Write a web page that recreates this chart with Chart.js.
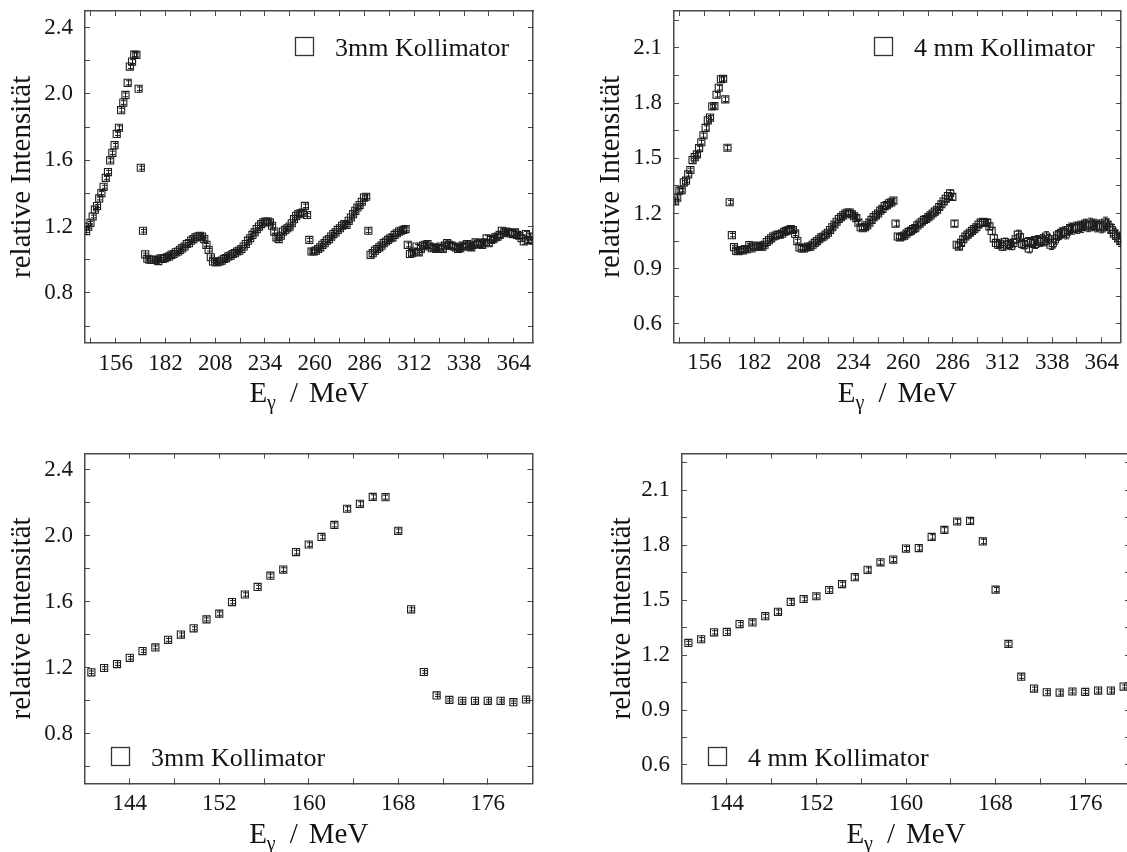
<!DOCTYPE html>
<html lang="de">
<head>
<meta charset="utf-8">
<title>Relative Intensität – 3 mm und 4 mm Kollimator</title>
<script src="https://cdn.jsdelivr.net/npm/chart.js@4.4.1/dist/chart.umd.min.js"></script>
<style>
  html, body { margin: 0; padding: 0; background: #fff; }
  #page { position: relative; width: 1127px; height: 852px; overflow: hidden; }
  #page canvas { position: absolute; }
</style>
</head>
<body>
<div id="page">
  <canvas id="wide3" width="560" height="430" style="left:0;top:0"></canvas>
  <canvas id="wide4" width="560" height="430" style="left:567px;top:0"></canvas>
  <canvas id="zoom3" width="560" height="422" style="left:0;top:430px"></canvas>
  <canvas id="zoom4" width="580" height="422" style="left:567px;top:430px"></canvas>
</div>
<script>
// Photon energy of each tagger channel (MeV)
const energy = [
  140.57, 141.71, 142.86, 144.00, 145.14, 146.29, 147.43, 148.57, 149.71, 150.86,
  152.00, 153.14, 154.29, 155.43, 156.57, 157.72, 158.86, 160.00, 161.14, 162.29,
  163.43, 164.57, 165.72, 166.86, 168.00, 169.15, 170.29, 171.43, 172.57, 173.72,
  174.86, 176.00, 177.15, 178.29, 179.43, 180.58, 181.72, 182.86, 184.00, 185.15,
  186.29, 187.43, 188.58, 189.72, 190.86, 192.01, 193.15, 194.29, 195.43, 196.58,
  197.72, 198.86, 200.01, 201.15, 202.29, 203.44, 204.58, 205.72, 206.86, 208.01,
  209.15, 210.29, 211.44, 212.58, 213.72, 214.87, 216.01, 217.15, 218.29, 219.44,
  220.58, 221.72, 222.87, 224.01, 225.15, 226.30, 227.44, 228.58, 229.72, 230.87,
  232.01, 233.15, 234.30, 235.44, 236.58, 237.73, 238.87, 240.01, 241.15, 242.30,
  243.44, 244.58, 245.73, 246.87, 248.01, 249.16, 250.30, 251.44, 252.58, 253.73,
  254.87, 256.01, 257.16, 258.30, 259.44, 260.59, 261.73, 262.87, 264.01, 265.16,
  266.30, 267.44, 268.59, 269.73, 270.87, 272.02, 273.16, 274.30, 275.44, 276.59,
  277.73, 278.87, 280.02, 281.16, 282.30, 283.45, 284.59, 285.73, 286.87, 288.02,
  289.16, 290.30, 291.45, 292.59, 293.73, 294.88, 296.02, 297.16, 298.30, 299.45,
  300.59, 301.73, 302.88, 304.02, 305.16, 306.31, 307.45, 308.59, 309.73, 310.88,
  312.02, 313.16, 314.31, 315.45, 316.59, 317.74, 318.88, 320.02, 321.16, 322.31,
  323.45, 324.59, 325.74, 326.88, 328.02, 329.17, 330.31, 331.45, 332.59, 333.74,
  334.88, 336.02, 337.17, 338.31, 339.45, 340.60, 341.74, 342.88, 344.02, 345.17,
  346.31, 347.45, 348.60, 349.74, 350.88, 352.03, 353.17, 354.31, 355.45, 356.60,
  357.74, 358.88, 360.03, 361.17, 362.31, 363.46, 364.60, 365.74, 366.88, 368.03,
  369.17, 370.31, 371.46, 372.60, 373.74
];

// 3 mm collimator: relative intensity and its uncertainty
const intensity3mm = [
  1.173, 1.199, 1.223, 1.261, 1.302, 1.324, 1.370, 1.402, 1.440, 1.494,
  1.529, 1.599, 1.645, 1.691, 1.759, 1.796, 1.902, 1.948, 1.994, 2.067,
  2.165, 2.195, 2.237, 2.235, 2.031, 1.555, 1.175, 1.033, 1.006, 1.000,
  1.000, 1.000, 1.000, 0.992, 1.008, 1.005, 1.010, 1.015, 1.020, 1.030,
  1.035, 1.045, 1.050, 1.060, 1.070, 1.080, 1.095, 1.100, 1.115, 1.125,
  1.135, 1.140, 1.145, 1.140, 1.125, 1.090, 1.060, 1.015, 0.990, 0.985,
  0.985, 0.990, 0.995, 1.005, 1.010, 1.020, 1.025, 1.035, 1.040, 1.050,
  1.055, 1.065, 1.080, 1.095, 1.115, 1.130, 1.150, 1.165, 1.185, 1.200,
  1.215, 1.225, 1.230, 1.230, 1.225, 1.205, 1.170, 1.135, 1.125, 1.145,
  1.170, 1.180, 1.190, 1.200, 1.220, 1.245, 1.265, 1.275, 1.280, 1.285,
  1.325, 1.270, 1.120, 1.050, 1.050, 1.055, 1.065, 1.075, 1.090, 1.100,
  1.115, 1.125, 1.140, 1.155, 1.165, 1.180, 1.190, 1.205, 1.215, 1.210,
  1.235, 1.255, 1.275, 1.295, 1.315, 1.330, 1.350, 1.375, 1.380, 1.175,
  1.030, 1.040, 1.055, 1.065, 1.075, 1.085, 1.100, 1.110, 1.120, 1.130,
  1.135, 1.150, 1.160, 1.170, 1.175, 1.180, 1.185, 1.090, 1.035, 1.040,
  1.050, 1.080, 1.045, 1.065, 1.085, 1.090, 1.095, 1.080, 1.070, 1.075,
  1.065, 1.070, 1.080, 1.065, 1.085, 1.100, 1.090, 1.085, 1.080, 1.075,
  1.065, 1.070, 1.085, 1.080, 1.095, 1.080, 1.075, 1.090, 1.105, 1.095,
  1.100, 1.090, 1.105, 1.130, 1.100, 1.120, 1.125, 1.135, 1.140, 1.150,
  1.175, 1.160, 1.170, 1.165, 1.160, 1.155, 1.165, 1.150, 1.145, 1.130,
  1.110, 1.155, 1.120, 1.140, 1.115
];
const error3mm = [
  0.008, 0.008, 0.008, 0.008, 0.008, 0.009, 0.009, 0.009, 0.009, 0.009,
  0.010, 0.010, 0.010, 0.010, 0.010, 0.011, 0.011, 0.011, 0.011, 0.012,
  0.012, 0.012, 0.012, 0.012, 0.011, 0.009, 0.008, 0.007, 0.007, 0.007,
  0.007, 0.007, 0.007, 0.007, 0.007, 0.007, 0.007, 0.007, 0.007, 0.007,
  0.007, 0.007, 0.007, 0.008, 0.008, 0.008, 0.008, 0.008, 0.008, 0.008,
  0.008, 0.008, 0.008, 0.008, 0.008, 0.008, 0.008, 0.008, 0.007, 0.007,
  0.007, 0.007, 0.007, 0.007, 0.007, 0.008, 0.008, 0.008, 0.008, 0.008,
  0.008, 0.008, 0.008, 0.008, 0.008, 0.008, 0.009, 0.009, 0.009, 0.009,
  0.009, 0.009, 0.009, 0.009, 0.009, 0.009, 0.009, 0.009, 0.009, 0.009,
  0.009, 0.009, 0.009, 0.009, 0.009, 0.010, 0.010, 0.010, 0.010, 0.010,
  0.010, 0.010, 0.009, 0.009, 0.009, 0.009, 0.009, 0.009, 0.009, 0.009,
  0.009, 0.009, 0.010, 0.010, 0.010, 0.010, 0.010, 0.010, 0.010, 0.010,
  0.010, 0.010, 0.011, 0.011, 0.011, 0.011, 0.011, 0.011, 0.011, 0.010,
  0.010, 0.010, 0.010, 0.010, 0.010, 0.010, 0.010, 0.010, 0.011, 0.011,
  0.011, 0.011, 0.011, 0.011, 0.011, 0.011, 0.011, 0.012, 0.012, 0.012,
  0.012, 0.012, 0.012, 0.012, 0.012, 0.012, 0.012, 0.012, 0.012, 0.013,
  0.013, 0.013, 0.013, 0.013, 0.013, 0.013, 0.013, 0.013, 0.013, 0.013,
  0.013, 0.013, 0.014, 0.014, 0.014, 0.014, 0.014, 0.014, 0.014, 0.014,
  0.014, 0.014, 0.014, 0.015, 0.015, 0.015, 0.015, 0.015, 0.015, 0.015,
  0.015, 0.015, 0.016, 0.016, 0.016, 0.016, 0.016, 0.016, 0.016, 0.016,
  0.016, 0.016, 0.016, 0.016, 0.016
];

// 4 mm collimator: relative intensity and its uncertainty
const intensity4mm = [
  1.266, 1.286, 1.324, 1.326, 1.369, 1.378, 1.412, 1.436, 1.490, 1.506,
  1.521, 1.555, 1.587, 1.625, 1.665, 1.706, 1.721, 1.781, 1.784, 1.845,
  1.883, 1.929, 1.932, 1.820, 1.557, 1.261, 1.082, 1.017, 0.997, 0.995,
  1.001, 0.999, 1.006, 1.006, 1.028, 1.010, 1.020, 1.020, 1.025, 1.020,
  1.020, 1.030, 1.045, 1.055, 1.065, 1.075, 1.080, 1.085, 1.085, 1.090,
  1.100, 1.105, 1.110, 1.115, 1.110, 1.090, 1.050, 1.015, 1.010, 1.010,
  1.015, 1.020, 1.020, 1.030, 1.040, 1.050, 1.060, 1.070, 1.075, 1.085,
  1.095, 1.110, 1.125, 1.140, 1.155, 1.170, 1.180, 1.190, 1.200, 1.205,
  1.205, 1.195, 1.185, 1.175, 1.150, 1.125, 1.120, 1.125, 1.135, 1.150,
  1.165, 1.180, 1.190, 1.200, 1.215, 1.225, 1.240, 1.245, 1.255, 1.260,
  1.270, 1.145, 1.075, 1.070, 1.075, 1.080, 1.090, 1.100, 1.105, 1.115,
  1.120, 1.135, 1.145, 1.155, 1.165, 1.170, 1.180, 1.190, 1.200, 1.210,
  1.220, 1.235, 1.250, 1.265, 1.280, 1.295, 1.310, 1.290, 1.145, 1.030,
  1.020, 1.040, 1.060, 1.075, 1.085, 1.095, 1.105, 1.115, 1.125, 1.140,
  1.150, 1.155, 1.150, 1.150, 1.130, 1.105, 1.065, 1.040, 1.030, 1.035,
  1.020, 1.045, 1.030, 1.035, 1.025, 1.040, 1.060, 1.085, 1.070, 1.035,
  1.030, 1.045, 1.010, 1.040, 1.050, 1.035, 1.055, 1.045, 1.060, 1.050,
  1.075, 1.060, 1.030, 1.040, 1.060, 1.080, 1.085, 1.095, 1.100, 1.090,
  1.110, 1.120, 1.115, 1.125, 1.120, 1.130, 1.125, 1.135, 1.140, 1.130,
  1.145, 1.135, 1.140, 1.130, 1.135, 1.125, 1.130, 1.150, 1.140, 1.125,
  1.110, 1.090, 1.080, 1.065, 1.050
];
const error4mm = [
  0.009, 0.009, 0.009, 0.009, 0.009, 0.009, 0.009, 0.010, 0.010, 0.010,
  0.010, 0.010, 0.010, 0.011, 0.011, 0.011, 0.011, 0.011, 0.011, 0.012,
  0.012, 0.012, 0.012, 0.012, 0.011, 0.010, 0.009, 0.008, 0.008, 0.008,
  0.008, 0.008, 0.008, 0.008, 0.008, 0.009, 0.009, 0.009, 0.009, 0.009,
  0.009, 0.009, 0.010, 0.010, 0.010, 0.010, 0.010, 0.010, 0.010, 0.010,
  0.010, 0.010, 0.010, 0.010, 0.010, 0.010, 0.010, 0.010, 0.010, 0.010,
  0.010, 0.010, 0.010, 0.010, 0.010, 0.011, 0.011, 0.011, 0.011, 0.011,
  0.011, 0.011, 0.011, 0.011, 0.011, 0.011, 0.012, 0.012, 0.012, 0.012,
  0.012, 0.012, 0.012, 0.012, 0.012, 0.012, 0.012, 0.012, 0.012, 0.012,
  0.012, 0.012, 0.013, 0.013, 0.013, 0.013, 0.013, 0.013, 0.013, 0.013,
  0.013, 0.013, 0.012, 0.012, 0.012, 0.012, 0.012, 0.012, 0.013, 0.013,
  0.013, 0.013, 0.013, 0.013, 0.013, 0.013, 0.014, 0.014, 0.014, 0.014,
  0.014, 0.014, 0.014, 0.015, 0.015, 0.015, 0.016, 0.016, 0.015, 0.014,
  0.014, 0.014, 0.015, 0.015, 0.015, 0.015, 0.016, 0.016, 0.016, 0.016,
  0.017, 0.017, 0.017, 0.018, 0.018, 0.018, 0.019, 0.019, 0.020, 0.020,
  0.020, 0.021, 0.021, 0.021, 0.022, 0.022, 0.022, 0.024, 0.023, 0.023,
  0.023, 0.024, 0.024, 0.024, 0.025, 0.025, 0.025, 0.025, 0.026, 0.026,
  0.026, 0.026, 0.026, 0.027, 0.027, 0.027, 0.027, 0.027, 0.027, 0.028,
  0.028, 0.028, 0.028, 0.028, 0.028, 0.028, 0.029, 0.029, 0.029, 0.029,
  0.029, 0.029, 0.029, 0.030, 0.030, 0.030, 0.030, 0.030, 0.030, 0.030,
  0.030, 0.030, 0.030, 0.030, 0.030
];

// Tick positions (every tick) and the ones that carry a label
const wideTicks = [143, 156, 169, 182, 195, 208, 221, 234, 247, 260, 273, 286, 299, 312, 325, 338, 351, 364];
const wideLabels = [156, 182, 208, 234, 260, 286, 312, 338, 364];
const zoomTicks = [144, 148, 152, 156, 160, 164, 168, 172, 176];
const zoomLabels = [144, 152, 160, 168, 176];
const ticks3mm = [0.6, 0.8, 1.0, 1.2, 1.4, 1.6, 1.8, 2.0, 2.2, 2.4];
const labels3mm = [0.8, 1.2, 1.6, 2.0, 2.4];
const ticks4mm = [0.6, 0.75, 0.9, 1.05, 1.2, 1.35, 1.5, 1.65, 1.8, 1.95, 2.1, 2.25];
const labels4mm = [0.6, 0.9, 1.2, 1.5, 1.8, 2.1];

const INK = '#141414';
const FRAME = '#4a4a4a';
const MARK = '#1e1e1e';
const SERIF = '"Liberation Serif", "Times New Roman", serif';

Chart.defaults.font.family = SERIF;
Chart.defaults.color = INK;

// Vertical error bars with small caps, drawn on top of the square markers
const errorBars = {
  id: 'errorBars',
  afterDatasetsDraw(chart) {
    const {ctx, chartArea: a, scales: {y}} = chart;
    ctx.save();
    ctx.beginPath();
    ctx.rect(a.left, a.top, a.right - a.left, a.bottom - a.top);
    ctx.clip();
    ctx.strokeStyle = MARK;
    ctx.lineWidth = 1;
    chart.data.datasets.forEach((ds, di) => {
      if (!ds.errors) return;
      chart.getDatasetMeta(di).data.forEach((pt, i) => {
        const v = ds.data[i].y;
        const hi = y.getPixelForValue(v + ds.errors[i]);
        const lo = y.getPixelForValue(v - ds.errors[i]);
        const x = Math.round(pt.x) + 0.5;
        ctx.beginPath();
        ctx.moveTo(x, Math.min(hi, pt.y - 3.5));
        ctx.lineTo(x, Math.max(lo, pt.y + 3.5));
        ctx.moveTo(x - 2.5, hi);
        ctx.lineTo(x + 2.5, hi);
        ctx.moveTo(x - 2.5, lo);
        ctx.lineTo(x + 2.5, lo);
        ctx.stroke();
      });
    });
    ctx.restore();
  }
};

// Legend box inside the frame: open square + collimator name
const boxLegend = {
  id: 'boxLegend',
  afterDraw(chart, args, opts) {
    const {ctx, chartArea: a} = chart;
    const x = Math.round(a.left + opts.dx);
    const y = Math.round(a.top + opts.dy);
    ctx.save();
    ctx.strokeStyle = '#333';
    ctx.lineWidth = 1.3;
    ctx.strokeRect(x + 0.5, y + 0.5, 18, 18);
    ctx.fillStyle = INK;
    ctx.font = '26px ' + SERIF;
    ctx.textBaseline = 'alphabetic';
    ctx.fillText(opts.text, x + 40, y + 19);
    ctx.restore();
  }
};

// x axis title "E_γ / MeV" with a subscripted gamma
const energyTitle = {
  id: 'energyTitle',
  afterDraw(chart, args, opts) {
    const {ctx, chartArea: a} = chart;
    const big = '29px ' + SERIF;
    const small = '20px ' + SERIF;
    ctx.save();
    ctx.fillStyle = INK;
    ctx.textBaseline = 'alphabetic';
    ctx.font = big;
    const wE = ctx.measureText('E').width;
    const wSlash = ctx.measureText('/').width;
    const wUnit = ctx.measureText('MeV').width;
    ctx.font = small;
    const wG = ctx.measureText('γ').width;
    const gap1 = 14, gap2 = 11;
    const total = wE + wG + gap1 + wSlash + gap2 + wUnit;
    let x = (a.left + a.right) / 2 - total / 2;
    const base = a.bottom + opts.offset;
    ctx.font = big;
    ctx.fillText('E', x, base);
    x += wE;
    ctx.font = small;
    ctx.fillText('γ', x, base + 7);
    x += wG + gap1;
    ctx.font = big;
    ctx.fillText('/', x, base);
    x += wSlash + gap2;
    ctx.fillText('MeV', x, base);
    ctx.restore();
  }
};

function axis(position, min, max, tickValues, labelValues, format, size, showLabels, pad) {
  return {
    type: 'linear',
    position,
    min,
    max,
    afterBuildTicks: s => { s.ticks = tickValues.map(v => ({value: v})); },
    afterFit: s => {
      if (s.isHorizontal()) s.height = size; else s.width = size;
      // keep the plot frame exactly where it is placed, labels may overhang
      s.paddingTop = s.paddingBottom = s.paddingLeft = s.paddingRight = 0;
    },
    border: {color: FRAME, width: 1.5},
    grid: {drawOnChartArea: false, drawTicks: true, tickLength: -5, tickColor: FRAME, tickWidth: 1},
    ticks: {
      display: showLabels,
      autoSkip: false,
      maxRotation: 0,
      padding: pad,
      color: INK,
      font: {size: 23},
      callback: v => labelValues.includes(v) ? format(v) : ''
    }
  };
}

function makePanel(p) {
  const canvas = document.getElementById(p.id);
  const W = canvas.width, H = canvas.height;
  const data = [];
  energy.forEach((x, i) => { if (x <= p.xMax) data.push({x, y: p.values[i]}); });

  const xAxis = axis('bottom', p.xMin, p.xMax, p.xTicks, p.xLabels, v => String(v), H - p.area.bottom, true, 12);
  const yAxis = axis('left', p.yMin, p.yMax, p.yTicks, p.yLabels, v => v.toFixed(1), p.area.left, true, 17);
  yAxis.title = {
    display: true,
    text: 'relative Intensität',
    color: INK,
    font: {size: 29},
    padding: {top: p.titlePad, bottom: 0}
  };

  return new Chart(canvas, {
    type: 'scatter',
    data: {
      datasets: [{
        label: p.legend,
        data,
        errors: p.errors.slice(0, data.length),
        pointStyle: 'rect',
        pointRadius: 5,
        pointBorderWidth: 1.1,
        pointBorderColor: MARK,
        pointBackgroundColor: 'rgba(0,0,0,0)',
        showLine: false
      }]
    },
    options: {
      responsive: false,
      devicePixelRatio: 1,
      animation: false,
      events: [],
      layout: {padding: {left: 0, top: p.area.top, right: W - p.area.right, bottom: 0}},
      scales: {
        x: xAxis,
        y: yAxis,
        xTop: axis('top', p.xMin, p.xMax, p.xTicks, [], v => '', 0, false, 0),
        yRight: axis('right', p.yMin, p.yMax, p.yTicks, [], v => '', 0, false, 0)
      },
      plugins: {
        legend: {display: false},
        tooltip: {enabled: false},
        boxLegend: {text: p.legend, dx: p.legendAt[0], dy: p.legendAt[1]},
        energyTitle: {offset: 59.5}
      }
    },
    plugins: [errorBars, boxLegend, energyTitle]
  });
}

// Full range, 3 mm
makePanel({
  id: 'wide3', values: intensity3mm, errors: error3mm, legend: '3mm Kollimator',
  xMin: 140, xMax: 374, xTicks: wideTicks, xLabels: wideLabels,
  yMin: 0.5, yMax: 2.5, yTicks: ticks3mm, yLabels: labels3mm,
  area: {left: 85, top: 11, right: 533, bottom: 342.7}, titlePad: 5, legendAt: [209.6, 26]
});

// Full range, 4 mm
makePanel({
  id: 'wide4', values: intensity4mm, errors: error4mm, legend: '4 mm Kollimator',
  xMin: 140, xMax: 374, xTicks: wideTicks, xLabels: wideLabels,
  yMin: 0.5, yMax: 2.3, yTicks: ticks4mm, yLabels: labels4mm,
  area: {left: 107, top: 11, right: 555, bottom: 342.3}, titlePad: 26.8, legendAt: [199.6, 26]
});

// Peak region, 3 mm
makePanel({
  id: 'zoom3', values: intensity3mm, errors: error3mm, legend: '3mm Kollimator',
  xMin: 140, xMax: 180, xTicks: zoomTicks, xLabels: zoomLabels,
  yMin: 0.5, yMax: 2.5, yTicks: ticks3mm, yLabels: labels3mm,
  area: {left: 85, top: 23.5, right: 532.5, bottom: 353.3}, titlePad: 5, legendAt: [25.7, 293.2]
});

// Peak region, 4 mm
makePanel({
  id: 'zoom4', values: intensity4mm, errors: error4mm, legend: '4 mm Kollimator',
  xMin: 140, xMax: 180, xTicks: zoomTicks, xLabels: zoomLabels,
  yMin: 0.5, yMax: 2.3, yTicks: ticks4mm, yLabels: labels4mm,
  area: {left: 115, top: 23.5, right: 563, bottom: 353.3}, titlePad: 38, legendAt: [25.6, 293.2]
});
</script>
</body>
</html>
